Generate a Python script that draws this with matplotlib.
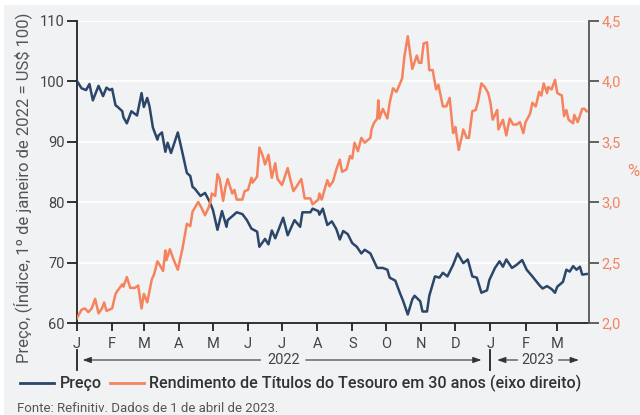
import numpy as np
import matplotlib
matplotlib.use("Agg")
import matplotlib.pyplot as plt
import matplotlib.dates as mdates
from matplotlib import font_manager
from matplotlib.lines import Line2D
from matplotlib.patches import Rectangle
from matplotlib.ticker import FuncFormatter, FixedLocator
import matplotlib.transforms as mtransforms

# fonte estreita se existir
nomes = {f.name for f in font_manager.fontManager.ttflist}
fonte = "Liberation Sans Narrow" if "Liberation Sans Narrow" in nomes else "Roboto"
plt.rcParams["font.family"] = [fonte, "DejaVu Sans"]

base = np.datetime64("2022-01-01")

# Preço (dias desde 1 jan 2022, índice)
dias_preco = [0, 4, 8, 11, 14, 19, 23, 26, 29, 31, 34, 36, 40, 41, 44, 48, 53, 57, 59, 62,
              64, 67, 71, 72, 75, 78, 80, 83, 89, 93, 97, 100, 102, 104, 109, 113, 117, 120,
              124, 128, 132, 133, 138, 141, 146, 150, 154, 159, 161, 166, 169, 172, 175, 182,
              186, 192, 197, 199, 206, 208, 213, 214, 217, 221, 225, 229, 232, 235, 239, 243,
              247, 251, 254, 259, 261, 265, 270, 274, 276, 281, 285, 288, 292, 296, 298, 303,
              305, 309, 311, 316, 320, 323, 327, 332, 336, 341, 345, 349, 353, 357, 362, 364,
              369, 373, 376, 379, 384, 388, 393, 397, 402, 408, 411, 415, 419, 422, 424, 429,
              432, 435, 438, 441, 444, 446, 450]
preco = [100, 98.8, 98.5, 99.5, 96.8, 99.2, 97.5, 98.9, 98.5, 98.7, 96.0, 95.7, 95.0, 94.0,
         93.0, 95.0, 94.3, 98.0, 95.7, 97.2, 95.8, 92.3, 90.3, 91.0, 91.5, 88.3, 89.8, 88.1,
         91.5, 88.2, 84.8, 84.3, 82.5, 82.2, 81.0, 81.5, 80.1, 78.7, 75.4, 78.5, 75.9, 77.0,
         77.8, 78.3, 78.0, 77.0, 75.6, 75.1, 72.6, 73.9, 73.0, 75.3, 74.0, 77.4, 74.5, 77.0,
         75.9, 78.3, 78.3, 78.9, 78.5, 77.9, 78.9, 76.2, 76.8, 75.5, 73.8, 75.2, 74.7, 73.2,
         72.6, 71.5, 72.1, 71.5, 70.7, 69.1, 69.1, 68.8, 67.5, 67.0, 65.0, 63.6, 61.4, 63.9,
         64.5, 63.6, 61.9, 61.9, 64.5, 67.7, 67.5, 68.3, 67.7, 69.6, 71.5, 69.9, 70.5, 67.7,
         67.5, 65.0, 65.4, 67.1, 69.1, 70.2, 69.3, 70.5, 69.1, 69.6, 70.4, 68.8, 67.7, 66.3,
         65.7, 66.1, 65.6, 65.0, 66.0, 66.8, 68.8, 68.5, 69.4, 68.8, 69.3, 68.0, 68.1]

# Rendimento dos títulos de 30 anos (%)
dias_rend = [0, 4, 7, 10, 13, 16, 19, 22, 24, 26, 31, 34, 36, 40, 41, 44, 47, 51, 54, 57,
             59, 62, 66, 68, 71, 73, 76, 78, 79, 82, 85, 89, 93, 97, 100, 102, 107, 110, 113,
             116, 118, 119, 122, 124, 126, 129, 131, 133, 137, 139, 141, 146, 148, 151, 154,
             155, 159, 161, 164, 166, 169, 172, 175, 177, 181, 186, 188, 191, 194, 198, 201,
             206, 208, 213, 214, 216, 221, 223, 226, 229, 232, 234, 238, 241, 243, 245, 248,
             251, 254, 259, 260, 262, 265, 266, 267, 270, 274, 276, 279, 282, 287, 289, 292,
             296, 300, 302, 304, 306, 309, 311, 314, 317, 319, 323, 326, 329, 332, 333, 334,
             337, 340, 341, 344, 346, 349, 352, 354, 357, 360, 363, 365, 367, 371, 372, 376,
             379, 382, 385, 388, 391, 394, 396, 400, 402, 405, 408, 410, 412, 415, 416, 419,
             422, 424, 428, 430, 432, 434, 438, 439, 442, 446, 448, 450]
rend = [2.04, 2.11, 2.12, 2.09, 2.12, 2.20, 2.08, 2.12, 2.17, 2.10, 2.12, 2.24, 2.27, 2.32,
        2.30, 2.38, 2.29, 2.29, 2.31, 2.12, 2.24, 2.17, 2.36, 2.40, 2.51, 2.48, 2.43, 2.60,
        2.52, 2.61, 2.53, 2.44, 2.61, 2.82, 2.80, 2.92, 3.00, 2.95, 2.89, 2.95, 3.01, 3.07,
        3.05, 3.23, 3.19, 3.01, 3.12, 3.19, 3.07, 3.10, 3.02, 3.02, 3.09, 3.10, 3.20, 3.16,
        3.21, 3.45, 3.38, 3.31, 3.39, 3.20, 3.32, 3.19, 3.14, 3.28, 3.20, 3.09, 3.13, 3.19,
        3.03, 3.03, 2.98, 3.02, 3.07, 3.02, 3.18, 3.13, 3.17, 3.27, 3.35, 3.25, 3.27, 3.38,
        3.36, 3.49, 3.42, 3.53, 3.49, 3.53, 3.60, 3.65, 3.69, 3.84, 3.69, 3.77, 3.69, 3.82,
        3.94, 3.91, 4.02, 4.20, 4.37, 4.10, 4.21, 4.15, 4.15, 4.31, 4.32, 4.09, 4.09, 3.93,
        3.97, 3.79, 3.79, 3.86, 3.57, 3.58, 3.62, 3.43, 3.55, 3.60, 3.53, 3.53, 3.75, 3.76,
        3.83, 3.98, 3.95, 3.90, 3.82, 3.68, 3.76, 3.60, 3.68, 3.55, 3.69, 3.64, 3.64, 3.66,
        3.57, 3.66, 3.73, 3.82, 3.79, 3.91, 3.88, 3.98, 3.90, 3.95, 3.93, 4.01, 3.90, 3.88,
        3.71, 3.76, 3.68, 3.65, 3.72, 3.66, 3.77, 3.77, 3.75]

meses = ["J", "F", "M", "A", "M", "J", "J", "A", "S", "O", "N", "D", "J", "F", "M"]
ticks_esq = [60, 70, 80, 90, 100, 110]
ticks_dir = [2.0, 2.5, 3.0, 3.5, 4.0, 4.5]

AZUL = "#2b4669"
LARANJA = "#f5835e"
FUNDO = "#f1f2f4"
W, H = 640, 415

t_preco = base + np.array(dias_preco, dtype="timedelta64[D]")
t_rend = base + np.array(dias_rend, dtype="timedelta64[D]")

fig = plt.figure(figsize=(6.4, 4.15), dpi=100)
fig.patch.set_facecolor("white")
fig.add_artist(Rectangle((4 / W, 0), 1, (H - 5) / H, transform=fig.transFigure,
                         facecolor=FUNDO, edgecolor="none", zorder=-10))

ax = fig.add_axes([77 / W, (H - 323) / H, 512 / W, 302.5 / H])
ax.set_facecolor(FUNDO)
ax2 = ax.twinx()

ax.plot(t_preco, preco, color=AZUL, lw=1.8, zorder=3)
ax2.plot(t_rend, rend, color=LARANJA, lw=1.8, zorder=3)

ax.set_xlim(base, base + np.timedelta64(452, "D"))
ax.set_ylim(60, 110)
ax2.set_ylim(2.0, 4.5)

ax.yaxis.set_major_locator(FixedLocator(ticks_esq))
ax2.yaxis.set_major_locator(FixedLocator(ticks_dir))
ax2.yaxis.set_major_formatter(FuncFormatter(lambda v, p: f"{v:.1f}".replace(".", ",")))

ax.xaxis.set_major_locator(mdates.MonthLocator())
ax.xaxis.set_major_formatter(FuncFormatter(lambda v, p: meses[p] if p is not None and p < len(meses) else ""))

ax.grid(axis="y", color="white", lw=1.3)
ax.set_axisbelow(True)

for s in ["top", "right"]:
    ax.spines[s].set_visible(False)
for s in ["top", "left", "bottom"]:
    ax2.spines[s].set_visible(False)
ax.spines["left"].set_color("#222")
ax.spines["bottom"].set_color("#222")
ax.spines["left"].set_linewidth(1.3)
ax.spines["bottom"].set_linewidth(1.3)
ax2.spines["right"].set_color("#555")
ax2.spines["right"].set_linewidth(1.3)

ax.tick_params(axis="y", length=7, width=1.3, color="#222", labelcolor="#444",
               labelsize=10.5, pad=2)
ax.tick_params(axis="x", length=6, width=1.3, color="#222", labelcolor="#444",
               labelsize=10.5, pad=4)
ax2.tick_params(axis="y", length=7, width=1.3, color="#555", labelcolor=LARANJA,
                labelsize=10.5, pad=2)

# faixa dos anos
tr = mtransforms.blended_transform_factory(ax.transData, fig.transFigure)
fy = lambda py: 1 - py / H
d = lambda n: base + np.timedelta64(n, "D")
seta = dict(arrowstyle="-|>,head_length=0.5,head_width=0.18", color="#333", lw=0.8,
            shrinkA=0, shrinkB=0)
for n in [0, 365]:
    fig.add_artist(Line2D([d(n), d(n)], [fy(350), fy(370)], transform=tr, color="#222", lw=1.3))
ax.annotate("", xy=(d(5), fy(360)), xytext=(d(162), fy(360)), xycoords=tr, textcoords=tr,
            arrowprops=seta, annotation_clip=False)
ax.annotate("", xy=(d(357), fy(360)), xytext=(d(202), fy(360)), xycoords=tr, textcoords=tr,
            arrowprops=seta, annotation_clip=False)
fig.text(284 / W, fy(360), "2022", transform=fig.transFigure, ha="center", va="center",
         color="#444", fontsize=10.5)
ax.annotate("", xy=(d(371), fy(360)), xytext=(d(389), fy(360)), xycoords=tr, textcoords=tr,
            arrowprops=seta, annotation_clip=False)
ax.annotate("", xy=(d(443), fy(360)), xytext=(d(425), fy(360)), xycoords=tr, textcoords=tr,
            arrowprops=seta, annotation_clip=False)
fig.text(538 / W, fy(360), "2023", ha="center", va="center", color="#444", fontsize=10.5)

# eixos: títulos
fig.text(23 / W, fy(188), "Preço, (Índice, 1º de janeiro de 2022 = US$ 100)", rotation=90,
         ha="center", va="center", color="#555", fontsize=12)
fig.text(633 / W, fy(171), "%", ha="center", va="center", color=LARANJA, fontsize=12)

# legenda
fig.add_artist(Line2D([20 / W, 54 / W], [fy(383), fy(383)], color=AZUL, lw=2))
fig.text(60 / W, fy(383), "Preço", ha="left", va="center", color="#333", fontsize=11.6,
         fontweight="medium")
fig.add_artist(Line2D([110 / W, 144 / W], [fy(383), fy(383)], color=LARANJA, lw=2))
fig.text(149 / W, fy(383), "Rendimento de Títulos do Tesouro em 30 anos (eixo direito)",
         ha="left", va="center", color="#333", fontsize=11.6, fontweight="medium")

fig.text(17 / W, fy(412), "Fonte: Refinitiv. Dados de 1 de abril de 2023.", ha="left",
         va="baseline", color="#555", fontsize=9.5)

fig.savefig("out.png", dpi=100, facecolor=fig.get_facecolor())
